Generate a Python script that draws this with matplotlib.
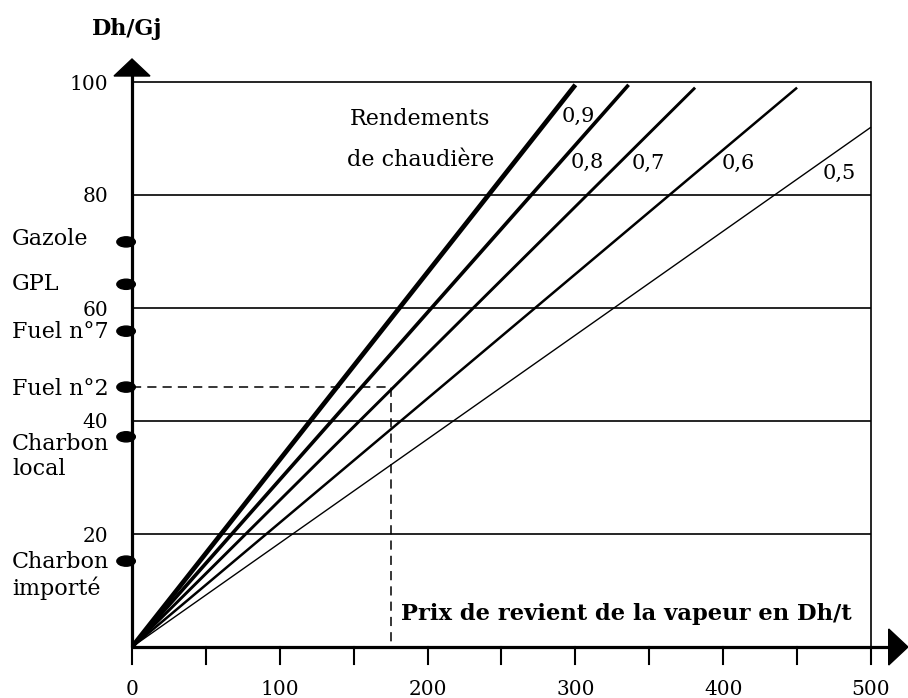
import matplotlib
matplotlib.use("Agg")
import matplotlib.pyplot as plt
from matplotlib.patches import Ellipse, Polygon

# Boiler efficiency lines (all start at the origin)
efficiency_labels = ["0,9", "0,8", "0,7", "0,6", "0,5"]
line_end_x = [300, 336, 381, 450, 500]
line_end_y = [99.5, 99.5, 99, 99, 92]

# Fuel prices (Dh/GJ) marked on the vertical axis
fuel_names = ["Gazole", "GPL", "Fuel n°7", "Fuel n°2", "Charbon\nlocal", "Charbon\nimporté"]
fuel_prices = [71.7, 64.2, 55.9, 46.0, 37.2, 15.2]

# Worked example: Fuel n°2 read on the 0,7 line
example_price = 46.0
example_steam_cost = 175

x_ticks = [0, 100, 200, 300, 400, 500]
x_minor = [50, 150, 250, 350, 450]
y_ticks = [20, 40, 60, 80, 100]

SERIF = ["DejaVu Serif"]
FS_NUM = 14.5
FS_TXT = 16.0

fig = plt.figure(figsize=(9.08, 6.98), dpi=100)
W, H = 908, 698
ax = fig.add_axes([132 / W, 51 / H, 783.3 / W, 593.25 / H])
ax.set_xlim(0, 530)
ax.set_ylim(0, 105)
for s in ax.spines.values():
    s.set_visible(False)

# data units per pixel
px_x = 500 / 739
px_y = 100 / 565

# Grid rules and right-hand border
for y in y_ticks:
    ax.plot([0, 500], [y, y], color="black", lw=1.2, solid_capstyle="butt")
ax.plot([500, 500], [0, 100], color="black", lw=1.2)

# Axes with arrowheads
ax.plot([0, 0], [0, 101.2], color="black", lw=2.3, clip_on=False, solid_capstyle="butt")
ax.plot([0, 513], [0, 0], color="black", lw=2.3, clip_on=False, solid_capstyle="butt")
ax.add_patch(Polygon([[-18 * px_x, 100 + 6 * px_y], [18 * px_x, 100 + 6 * px_y],
                      [0, 100 + 23 * px_y]], closed=True, color="black", clip_on=False))
ax.add_patch(Polygon([[512, -18 * px_y], [512, 18 * px_y], [525, 0]],
                     closed=True, color="black", clip_on=False))

# Tick marks below the horizontal axis
for x in x_ticks + x_minor:
    ax.plot([x, x], [0, -17 * px_y], color="black", lw=1.5, clip_on=False)
for x in x_ticks:
    ax.text(x, -48 * px_y, str(x), ha="center", va="baseline", fontsize=FS_NUM,
            family=SERIF, clip_on=False)
for y in y_ticks:
    ax.text(-24 * px_x, y - 7.5 * px_y, str(y), ha="right", va="baseline",
            fontsize=FS_NUM, family=SERIF, clip_on=False)

# Efficiency lines
widths = [3.4, 2.6, 2.1, 1.8, 1.0]
for xe, ye, lw in zip(line_end_x, line_end_y, widths):
    ax.plot([0, xe], [0, ye], color="black", lw=lw, solid_capstyle="butt")

label_pos = [(291, 92.9), (297, 84.8), (338, 84.6), (399, 84.6), (467, 82.8)]
for lab, (lx, ly) in zip(efficiency_labels, label_pos):
    ax.text(lx, ly, lab, ha="left", va="baseline", fontsize=15, family=SERIF)

ax.text(195, 92.4, "Rendements", ha="center", va="baseline", fontsize=FS_TXT, family=SERIF)
ax.text(195, 85.1, "de chaudière", ha="center", va="baseline", fontsize=FS_TXT, family=SERIF)

# Fuel markers and names on the vertical axis (baselines of each text line)
name_baselines = [[71.2], [63.2], [54.7], [44.6], [34.9, 30.4], [14.0, 9.2]]
for name, p, bases in zip(fuel_names, fuel_prices, name_baselines):
    ax.add_patch(Ellipse((-4, p), 12.5, 1.8, color="black", clip_on=False))
    for ln, b in zip(name.split("\n"), bases):
        ax.text(-81.2, b, ln, ha="left", va="baseline",
                fontsize=FS_TXT, family=SERIF, clip_on=False)

# Dashed reading for Fuel n°2
ax.plot([0, example_steam_cost, example_steam_cost], [example_price, example_price, 0],
        color="black", lw=1.1, dashes=(6, 4))

# Axis titles
ax.text(-3.5, 108.3, "Dh/Gj", ha="center", va="baseline",
        fontsize=FS_TXT, family=SERIF, fontweight="bold", clip_on=False)
ax.text(182, 4.78, "Prix de revient de la vapeur en Dh/t", ha="left", va="baseline",
        fontsize=16.3, family=SERIF, fontweight="bold")

ax.set_xticks([])
ax.set_yticks([])

fig.savefig("out.png", dpi=100, facecolor="white")
